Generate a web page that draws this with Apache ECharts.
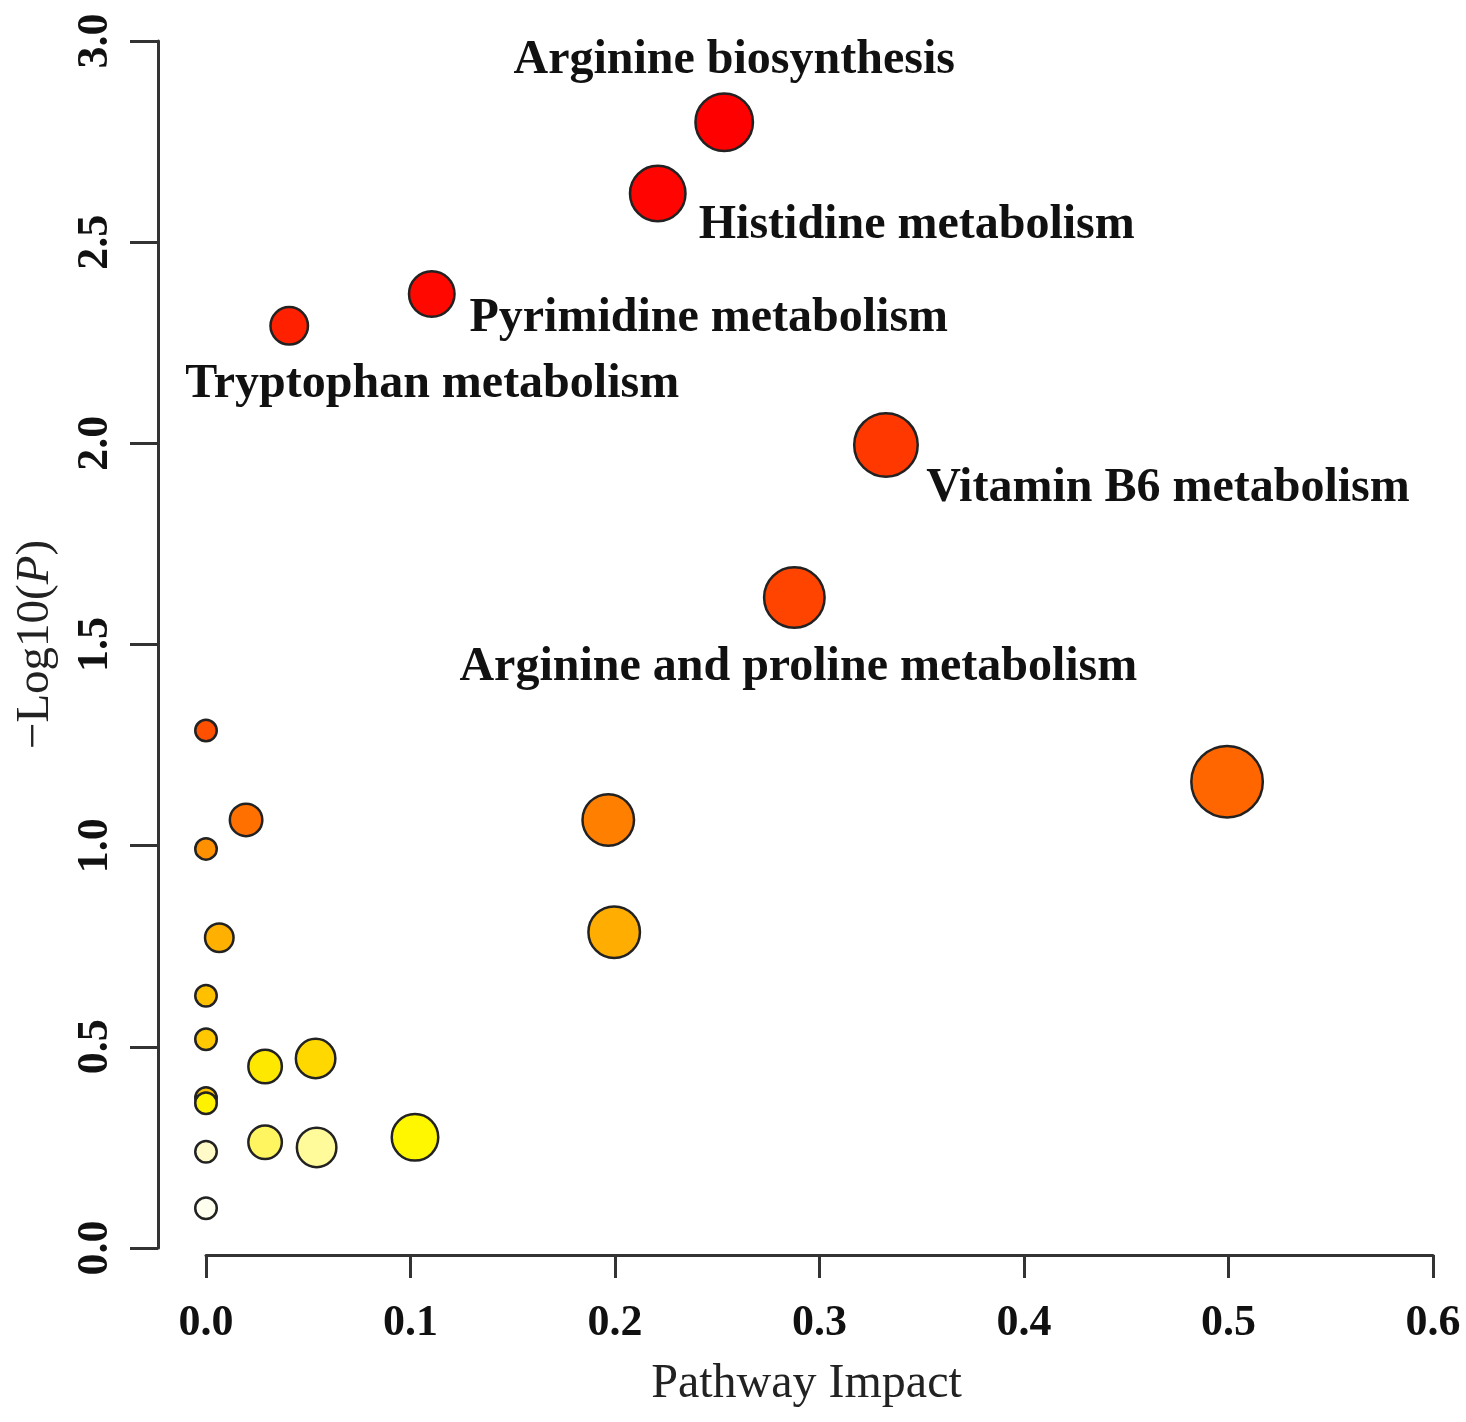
<!DOCTYPE html>
<html>
<head>
<meta charset="utf-8">
<script src="https://cdn.jsdelivr.net/npm/echarts@6/dist/echarts.min.js"></script>
<style>
  html, body { margin: 0; padding: 0; background: #fff; }
  #chart { width: 1466px; height: 1422px; }
</style>
</head>
<body>
<div id="chart"></div>
<script>
// pathway names (empty = unlabelled bubble)
const pathways = [
  'Arginine biosynthesis', 'Histidine metabolism', 'Pyrimidine metabolism',
  'Tryptophan metabolism', 'Vitamin B6 metabolism', 'Arginine and proline metabolism',
  '', '', '', '', '', '', '', '', '', '', '', '', '', '', '', '', '', ''
];
const impact = [0.2534, 0.2209, 0.1104, 0.0407, 0.3325, 0.2877, 0.4993, 0.1967, 0.1996,
  0, 0.0196, 0, 0.0065, 0, 0, 0.0289, 0.0536, 0, 0, 0, 0.0289, 0.0541, 0.1022, 0];
const logP = [2.798, 2.621, 2.371, 2.292, 1.996, 1.617, 1.159, 1.064, 0.785,
  1.286, 1.064, 0.992, 0.771, 0.627, 0.519, 0.451, 0.471, 0.373, 0.360, 0.239, 0.263, 0.250, 0.275, 0.099];
// bubble diameter
const bubble = [60, 58, 48, 40, 66, 63, 74, 54, 54,
  24, 35, 24, 31, 24, 24, 36, 42, 24, 24, 24, 36, 42, 49, 24];
const fills = ['#FF0000', '#FF0400', '#FF0800', '#FF2000', '#FF3800', '#FF4400', '#FF6600', '#FF8000', '#FFAD00',
  '#FF5000', '#FF7000', '#FF9000', '#FFB000', '#FFC000', '#FFC800', '#FFE800', '#FFD800', '#FFC400', '#FFF200',
  '#FFFAC8', '#FFF560', '#FFFA9A', '#FFF700', '#FFFFF0'];
const xTicks = [0, 0.1, 0.2, 0.3, 0.4, 0.5, 0.6];
const yTicks = [0, 0.5, 1, 1.5, 2, 2.5, 3];

// label offsets from bubble centre
const labelOffset = {
  'Arginine biosynthesis': [10, -62],
  'Histidine metabolism': [259, 32],
  'Pyrimidine metabolism': [277, 25],
  'Tryptophan metabolism': [143, 59],
  'Vitamin B6 metabolism': [282, 44],
  'Arginine and proline metabolism': [4, 70]
};

const serif = '"Liberation Serif", "DejaVu Serif", serif';

const points = impact.map((x, i) => {
  const name = pathways[i];
  const p = {
    value: [x, logP[i]],
    symbolSize: bubble[i] - 2.5,
    itemStyle: { color: fills[i] }
  };
  if (name) {
    p.name = name;
    p.label = {
      show: true,
      position: 'inside',
      offset: labelOffset[name],
      formatter: name,
      fontFamily: serif,
      fontWeight: 'bold',
      fontSize: 48,
      color: '#111'
    };
  }
  return p;
});

const chart = echarts.init(document.getElementById('chart'));
chart.setOption({
  animation: false,
  grid: { left: 206, right: 1466 - 1433, top: 41, bottom: 1422 - 1248 },
  xAxis: {
    type: 'value',
    min: xTicks[0], max: xTicks[xTicks.length - 1], interval: 0.1,
    offset: 7,
    name: 'Pathway Impact',
    nameLocation: 'middle',
    nameGap: 105,
    nameTextStyle: { fontFamily: serif, fontSize: 48, color: '#222', padding: [0, 26, 0, 0] },
    axisLine: { show: true, onZero: false, lineStyle: { color: '#333', width: 3 } },
    axisTick: { show: true, length: 23, lineStyle: { color: '#333', width: 3 } },
    axisLabel: {
      margin: 47,
      fontFamily: serif, fontWeight: 'bold', fontSize: 44, color: '#111',
      formatter: v => v.toFixed(1)
    },
    splitLine: { show: false }
  },
  yAxis: {
    type: 'value',
    min: yTicks[0], max: yTicks[yTicks.length - 1], interval: 0.5,
    offset: 48,
    name: '\u2212Log10({i|P})',
    nameLocation: 'middle',
    nameGap: 99,
    nameRotate: 90,
    nameTextStyle: {
      fontFamily: serif, fontSize: 47, color: '#222',
      rich: { i: { fontFamily: serif, fontSize: 47, fontStyle: 'italic', color: '#222' } }
    },
    axisLine: { show: true, onZero: false, lineStyle: { color: '#333', width: 3 } },
    axisTick: { show: true, length: 28, lineStyle: { color: '#333', width: 3 } },
    axisLabel: {
      rotate: 90,
      margin: 40,
      fontFamily: serif, fontWeight: 'bold', fontSize: 44, color: '#111',
      formatter: v => v.toFixed(1)
    },
    splitLine: { show: false }
  },
  series: [{
    type: 'scatter',
    clip: false,
    symbol: 'circle',
    itemStyle: { borderColor: '#222', borderWidth: 2.5, opacity: 1 },
    emphasis: { disabled: true },
    data: points
  }]
});
</script>
</body>
</html>
